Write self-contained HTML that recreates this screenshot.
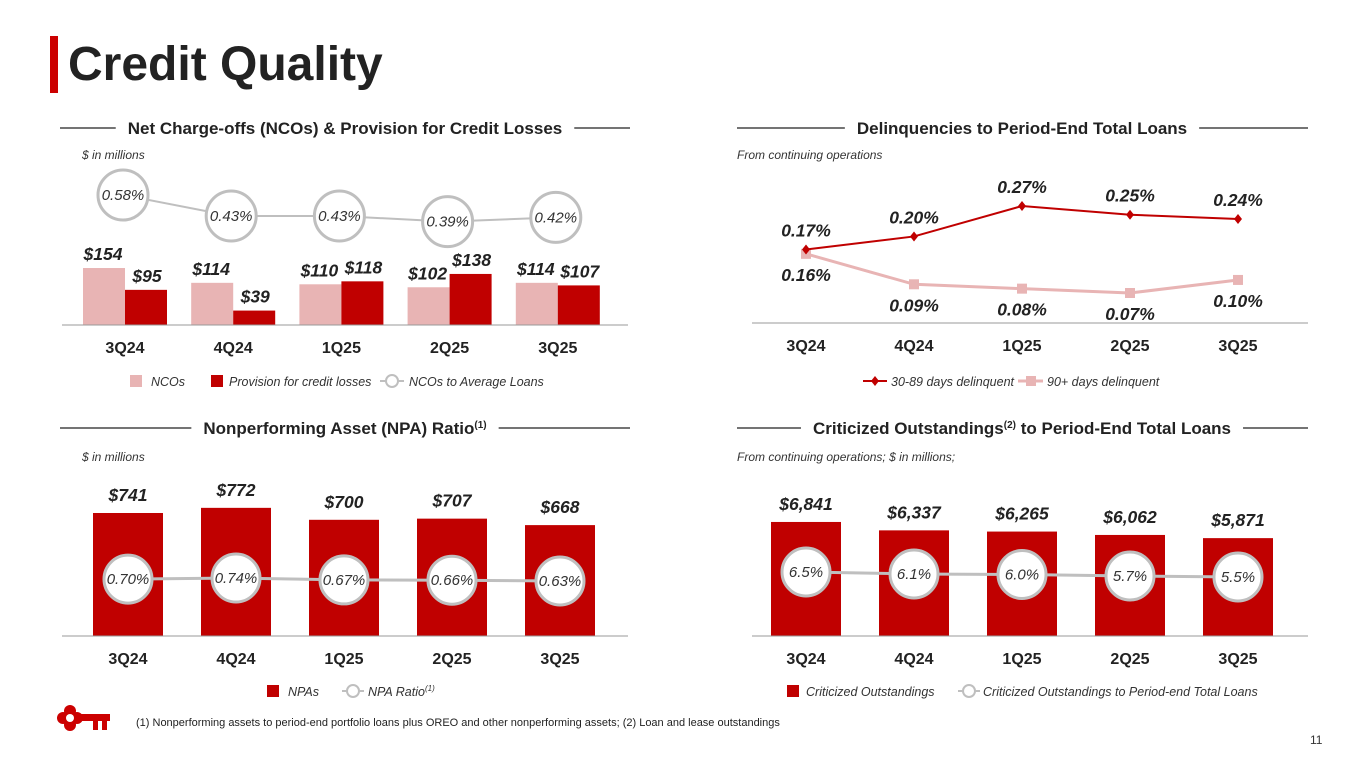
<!DOCTYPE html>
<html><head><meta charset="utf-8">
<style>
html,body{margin:0;padding:0;background:#fff;}
body{width:1365px;height:768px;overflow:hidden;font-family:"Liberation Sans",Arial,sans-serif;}
svg text{font-family:"Liberation Sans",Arial,sans-serif;}
</style></head>
<body>
<svg id="s" width="1365" height="768" viewBox="0 0 1365 768" xmlns="http://www.w3.org/2000/svg">
<rect x="50" y="36" width="8" height="57" fill="#cc0000"/>
<text x="68" y="80" font-size="48" font-weight="bold" fill="#222">Credit Quality</text>
<g fill="#cc0000">
<circle cx="70" cy="711" r="6"/><circle cx="70" cy="725" r="6"/><circle cx="63" cy="718" r="6"/><circle cx="77" cy="718" r="6"/>
<circle cx="70" cy="718" r="4" fill="#fff"/>
<rect x="80" y="714" width="30" height="7"/><rect x="93" y="721" width="5" height="9"/><rect x="102" y="721" width="5" height="9"/>
</g>
<text x="136" y="726" font-size="11" fill="#222">(1) Nonperforming assets to period-end portfolio loans plus OREO and other nonperforming assets; (2) Loan and lease outstandings</text>
<text x="1310" y="744" font-size="12" fill="#333">11</text>
</svg>
<script>
// ---- data ----
const quarters = ["3Q24","4Q24","1Q25","2Q25","3Q25"];
const ncoValues = [154,114,110,102,114];
const provisionValues = [95,39,118,138,107];
const ncoRatio = [0.58,0.43,0.43,0.39,0.42];
const delinq3089 = [0.17,0.20,0.27,0.25,0.24];
const delinq90 = [0.16,0.09,0.08,0.07,0.10];
const npaValues = [741,772,700,707,668];
const npaRatio = [0.70,0.74,0.67,0.66,0.63];
const critValues = [6841,6337,6265,6062,5871];
const critRatio = [6.5,6.1,6.0,5.7,5.5];

const NS="http://www.w3.org/2000/svg";
const svg=document.getElementById('s');
function el(tag,attrs,parent){const e=document.createElementNS(NS,tag);for(const k in attrs)e.setAttribute(k,attrs[k]);(parent||svg).appendChild(e);return e;}
function txt(x,y,s,attrs,parent){const t=el('text',Object.assign({x:x,y:y},attrs),parent);t.textContent=s;return t;}
const RED="#c00000", PINK="#e8b4b4", GREY="#bfbfbf";
const LF=12.5;
const leftX=i=>125+i*108.2;
const rightX=i=>806+i*108;

function headerAt(y,x1,x2,cx,label,name,sup){
  const g=el('g',{transform:'translate(0,'+(y-128)+')'});
  
  
  const t=txt(cx,134,label,{'font-size':17,'font-weight':'bold','fill':'#222','text-anchor':'middle'},g);
  if(sup){const ts=el('tspan',{'font-size':10,'dy':-6},t);ts.textContent=sup;}
  const w=t.getComputedTextLength();
  el('line',{x1:x1,x2:cx-w/2-12,y1:128,y2:128,stroke:'#222','stroke-width':1.2},g);
  el('line',{x1:cx+w/2+12,x2:x2,y1:128,y2:128,stroke:'#222','stroke-width':1.2},g);
  return g;
}
function note(x,y,s,name){const t=txt(x,y,s,{'font-size':12,'font-style':'italic','fill':'#333'});}
function axis(x1,x2,y,xf,name){
  const g=el('g',{});
  el('line',{x1:x1,x2:x2,y1:y,y2:y,stroke:'#999','stroke-width':1},g);
  quarters.forEach((q,i)=>{const t=txt(xf(i),y+28,q,{'font-size':16,'font-weight':'bold','fill':'#222','text-anchor':'middle'},g);
    });
}
function circleLabel(cx,cy,s,r){
  const g=el('g',{});
  
  
  el('circle',{cx:cx,cy:cy,r:r,fill:'#fff',stroke:GREY,'stroke-width':3},g);
  txt(cx,cy+5,s,{'font-size':15,'font-style':'italic','fill':'#333','text-anchor':'middle'},g);
}
function valLabel(x,y,s,name){const t=txt(x,y,s,{'font-size':17.5,'font-weight':'bold','font-style':'italic','fill':'#222','text-anchor':'middle'});}

// ===== Chart 1: NCOs =====
headerAt(128,60,630,345,"Net Charge-offs (NCOs) & Provision for Credit Losses","nco-chart-title");
note(82,159,"$ in millions","nco-units-note");
const base1=325, sc1=0.37;
const y1=v=>base1-v*sc1;
const ry1=v=>216-(v-0.43)*140;
quarters.forEach((q,i)=>{
  const c=leftX(i);
  const b=el('rect',{x:c-42,y:y1(ncoValues[i]),width:42,height:ncoValues[i]*sc1,fill:PINK});
  
  const p=el('rect',{x:c,y:y1(provisionValues[i]),width:42,height:provisionValues[i]*sc1,fill:RED});
  
  valLabel(c-22,y1(ncoValues[i])-8,"$"+ncoValues[i],'nco-value-label');
  valLabel(c+22,y1(provisionValues[i])-8,"$"+provisionValues[i],'provision-value-label');
});
axis(62,628,base1,leftX,'nco-x-axis');
{const pl=el('polyline',{points:quarters.map((q,i)=>(leftX(i)-2)+','+ry1(ncoRatio[i])).join(' '),fill:'none',stroke:GREY,'stroke-width':2});
}
quarters.forEach((q,i)=>circleLabel(leftX(i)-2,ry1(ncoRatio[i]),ncoRatio[i].toFixed(2)+"%",25));
{const g=el('g',{});
el('rect',{x:130,y:375,width:12,height:12,fill:PINK},g);txt(151,386,"NCOs",{'font-size':LF,'font-style':'italic','fill':'#333'},g);
el('rect',{x:211,y:375,width:12,height:12,fill:RED},g);txt(229,386,"Provision for credit losses",{'font-size':LF,'font-style':'italic','fill':'#333'},g);
el('line',{x1:380,x2:404,y1:381,y2:381,stroke:GREY,'stroke-width':2},g);el('circle',{cx:392,cy:381,r:6,fill:'#fff',stroke:GREY,'stroke-width':2},g);
txt(409,386,"NCOs to Average Loans",{'font-size':LF,'font-style':'italic','fill':'#333'},g);}

// ===== Chart 2: Delinquencies =====
headerAt(128,737,1308,1022,"Delinquencies to Period-End Total Loans","delinquency-chart-title");
note(737,159,"From continuing operations","delinquency-note");
const yd=v=>206+(0.27-v)*435;
axis(752,1308,323,rightX,'delinquency-x-axis');
{const pl=el('polyline',{points:quarters.map((q,i)=>rightX(i)+','+yd(delinq90[i])).join(' '),fill:'none',stroke:PINK,'stroke-width':3});
}
quarters.forEach((q,i)=>{const m=el('rect',{x:rightX(i)-5,y:yd(delinq90[i])-5,width:10,height:10,fill:PINK});});
{const pl=el('polyline',{points:quarters.map((q,i)=>rightX(i)+','+yd(delinq3089[i])).join(' '),fill:'none',stroke:RED,'stroke-width':2});
}
quarters.forEach((q,i)=>{const x=rightX(i),y=yd(delinq3089[i]);const m=el('polygon',{points:`${x},${y-5} ${x+4},${y} ${x},${y+5} ${x-4},${y}`,fill:RED});});
quarters.forEach((q,i)=>{
  valLabel(rightX(i),yd(delinq3089[i])-13,delinq3089[i].toFixed(2)+"%",'delinquent-30-89-label');
  valLabel(rightX(i),yd(delinq90[i])+27,delinq90[i].toFixed(2)+"%",'delinquent-90-label');
});
{const g=el('g',{});
el('line',{x1:863,x2:887,y1:381,y2:381,stroke:RED,'stroke-width':2},g);el('polygon',{points:'875,376 879,381 875,386 871,381',fill:RED},g);
txt(891,386,"30-89 days delinquent",{'font-size':LF,'font-style':'italic','fill':'#333'},g);
el('line',{x1:1018,x2:1043,y1:381,y2:381,stroke:PINK,'stroke-width':3},g);el('rect',{x:1026,y:376,width:10,height:10,fill:PINK},g);
txt(1047,386,"90+ days delinquent",{'font-size':LF,'font-style':'italic','fill':'#333'},g);}

// ===== Chart 3: NPA =====
headerAt(428,60,630,345,"Nonperforming Asset (NPA) Ratio","npa-chart-title","(1)");
note(82,461,"$ in millions","npa-units-note");
const base3=636, sc3=0.166;
const y3=v=>base3-v*sc3;
const ry3=v=>581-(v-0.63)*27;
const npaX=i=>128+i*108;
quarters.forEach((q,i)=>{
  const b=el('rect',{x:npaX(i)-35,y:y3(npaValues[i]),width:70,height:npaValues[i]*sc3,fill:RED});
  
  valLabel(npaX(i),y3(npaValues[i])-12,"$"+npaValues[i],'npa-value-label');
});
axis(62,628,base3,npaX,'npa-x-axis');
{const pl=el('polyline',{points:quarters.map((q,i)=>npaX(i)+','+ry3(npaRatio[i])).join(' '),fill:'none',stroke:GREY,'stroke-width':3});
}
quarters.forEach((q,i)=>circleLabel(npaX(i),ry3(npaRatio[i]),npaRatio[i].toFixed(2)+"%",24));
{const g=el('g',{});
el('rect',{x:267,y:685,width:12,height:12,fill:RED},g);txt(288,696,"NPAs",{'font-size':LF,'font-style':'italic','fill':'#333'},g);
el('line',{x1:342,x2:364,y1:691,y2:691,stroke:GREY,'stroke-width':2},g);el('circle',{cx:353,cy:691,r:6,fill:'#fff',stroke:GREY,'stroke-width':2},g);
const t=txt(368,696,"NPA Ratio",{'font-size':LF,'font-style':'italic','fill':'#333'},g);const ts=el('tspan',{'font-size':8,'dy':-5},t);ts.textContent="(1)";}

// ===== Chart 4: Criticized =====
{
  const g=headerAt(428,737,1308,1022,"Criticized Outstandings","crit-chart-title");
  const t=g.querySelector('text'); t.textContent="";
  const a=el('tspan',{},t);a.textContent="Criticized Outstandings";
  const b=el('tspan',{'font-size':10,'dy':-6},t);b.textContent="(2)";
  const c=el('tspan',{'dy':6},t);c.textContent=" to Period-End Total Loans";
  const w=t.getComputedTextLength(); const ls=g.querySelectorAll('line');
  ls[0].setAttribute('x2',1022-w/2-12); ls[1].setAttribute('x1',1022+w/2+12);
}
note(737,461,"From continuing operations; $ in millions;","crit-units-note");
const base4=636, sc4=0.01667;
const y4=v=>base4-v*sc4;
const ry4=v=>577-(v-5.5)*5;
quarters.forEach((q,i)=>{
  const b=el('rect',{x:rightX(i)-35,y:y4(critValues[i]),width:70,height:critValues[i]*sc4,fill:RED});
  
  valLabel(rightX(i),y4(critValues[i])-12,"$"+critValues[i].toLocaleString('en-US'),'criticized-value-label');
});
axis(752,1308,base4,rightX,'criticized-x-axis');
{const pl=el('polyline',{points:quarters.map((q,i)=>rightX(i)+','+ry4(critRatio[i])).join(' '),fill:'none',stroke:GREY,'stroke-width':3});
}
quarters.forEach((q,i)=>circleLabel(rightX(i),ry4(critRatio[i]),critRatio[i].toFixed(1)+"%",24));
{const g=el('g',{});
el('rect',{x:787,y:685,width:12,height:12,fill:RED},g);txt(806,696,"Criticized Outstandings",{'font-size':LF,'font-style':'italic','fill':'#333'},g);
el('line',{x1:958,x2:980,y1:691,y2:691,stroke:GREY,'stroke-width':2},g);el('circle',{cx:969,cy:691,r:6,fill:'#fff',stroke:GREY,'stroke-width':2},g);
txt(983,696,"Criticized Outstandings to Period-end Total Loans",{'font-size':LF,'font-style':'italic','fill':'#333'},g);}
</script>
</body></html>
